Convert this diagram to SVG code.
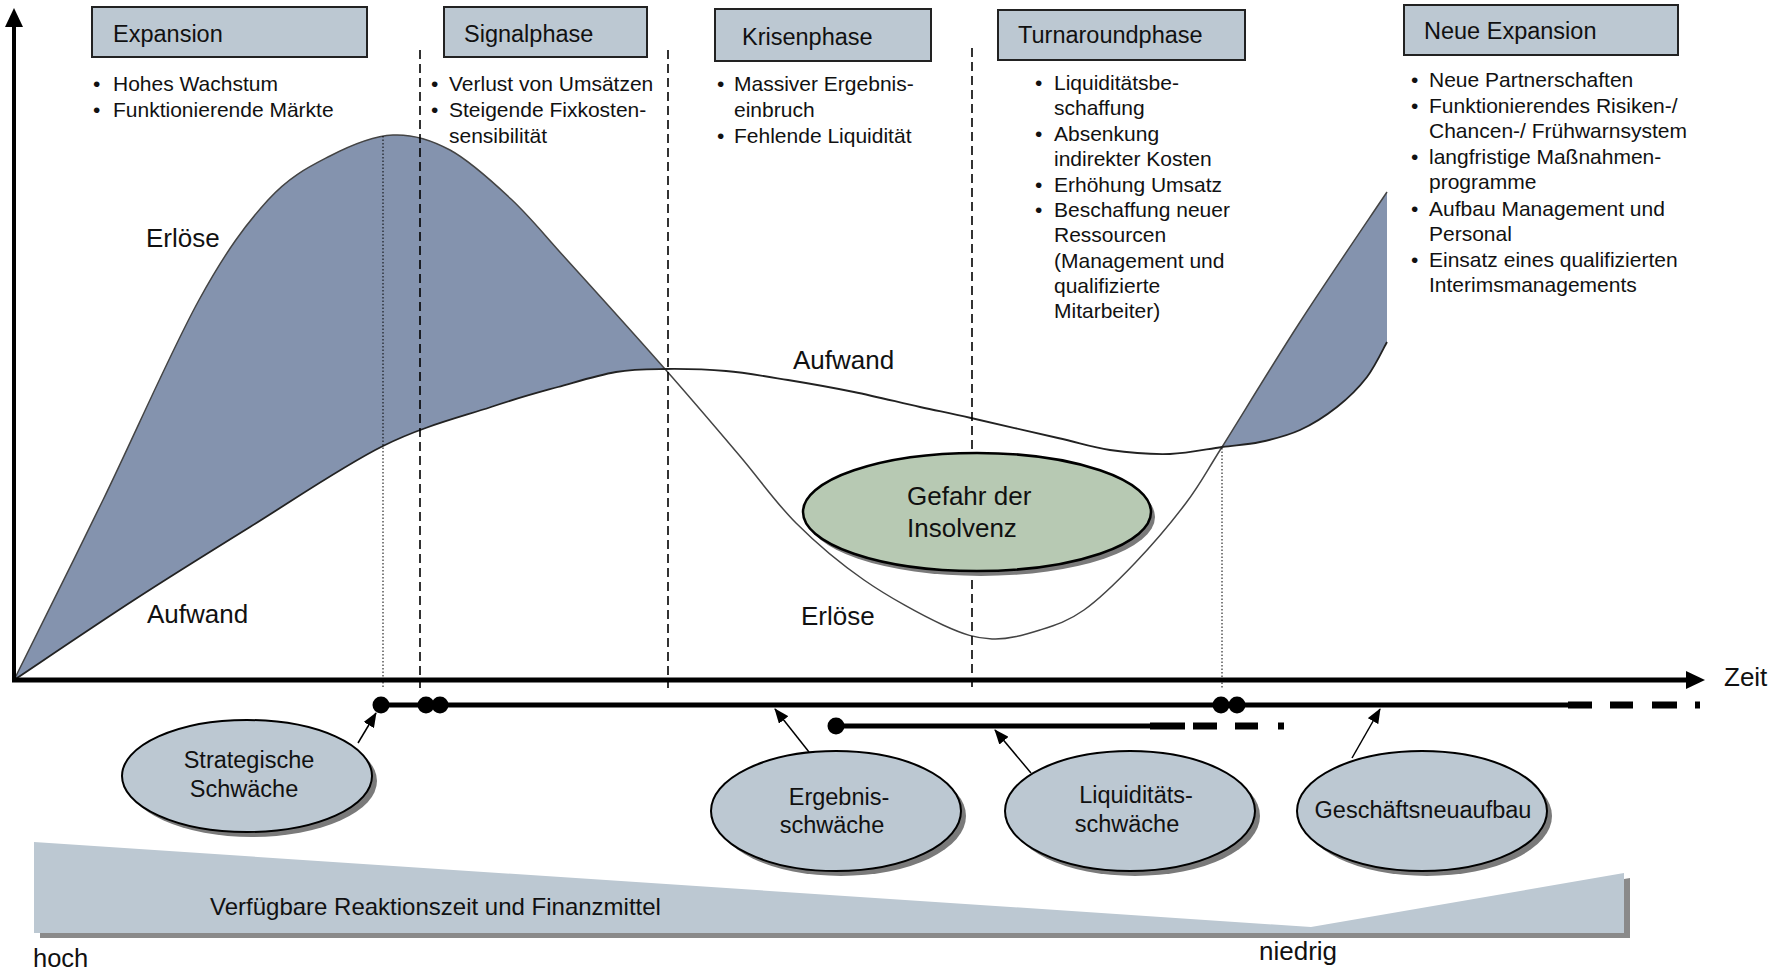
<svg xmlns="http://www.w3.org/2000/svg" width="1782" height="970" viewBox="0 0 1782 970">
<defs>
<style>
text{font-family:"Liberation Sans",Arial,Helvetica,sans-serif;fill:#111}
.ph{font-size:23.5px}
.bl{font-size:21px}
.lb{font-size:26px}
.el{font-size:23.5px;text-anchor:middle}
.box{fill:#BCC8D2;stroke:#222;stroke-width:2}
.ell{fill:#BCC8D2;stroke:#000;stroke-width:2}
.shd{fill:#7a7a7a}
.dash{stroke:#000;stroke-width:1.6;stroke-dasharray:9 5;fill:none}
.dot{stroke:#000;stroke-width:1;stroke-dasharray:1.5 2;fill:none}
.conn{stroke:#000;stroke-width:1.5;fill:none;marker-end:url(#ah)}
.tl{stroke:#000;stroke-width:5;fill:none}
.td{stroke:#000;stroke-width:7;fill:none}
</style>
<marker id="ah" markerUnits="userSpaceOnUse" markerWidth="15" markerHeight="12" refX="14" refY="6" orient="auto">
<path d="M0,0 L15,6 L0,12 Z" fill="#000"/>
</marker>
</defs>
<rect width="1782" height="970" fill="#fff"/>

<!-- filled areas -->
<path fill="#8493AE" d="M14,680 C28.8,650 72.2,563.3 103,500 C133.8,436.7 171.5,350 199,300 C226.5,250 246.2,224 268,200 C289.8,176 309.2,166.8 330,156 C350.8,145.2 373,136 393,135 C413,134 430.3,139.3 450,150 C469.7,160.7 491.3,180.5 511,199 C530.7,217.5 542.3,232.7 568,261 C593.7,289.3 636.5,336.7 665,369 C646.7,369.2 633.8,369 616,372 C598.2,375 578.8,381.2 558,387 C537.2,392.8 520.2,397.2 491,407 C461.8,416.8 423.2,426 383,446 C342.8,466 291.5,501.3 250,527 C208.5,552.7 173.3,574.5 134,600 C94.7,625.5 34,666.7 14,680 Z"/>
<path fill="#8493AE" d="M1222,447 C1241,416.8 1272.5,364.5 1300,322 C1327.5,279.5 1372.5,213.7 1387,192 L1387,342 C1383.7,347.8 1375.3,366.2 1367,377 C1358.7,387.8 1348.2,398.2 1337,407 C1325.8,415.8 1312.8,424.2 1300,430 C1287.2,435.8 1273,439.2 1260,442 C1247,444.8 1237,445 1222,447 Z"/>

<!-- curves -->
<path id="erloese" fill="none" stroke="#444" stroke-width="1.5" d="M14,680 C28.8,650 72.2,563.3 103,500 C133.8,436.7 171.5,350 199,300 C226.5,250 246.2,224 268,200 C289.8,176 309.2,166.8 330,156 C350.8,145.2 373,136 393,135 C413,134 430.3,139.3 450,150 C469.7,160.7 491.3,180.5 511,199 C530.7,217.5 542.3,232.7 568,261 C593.7,289.3 636.5,336.7 665,369 C693.5,401.3 717.2,429.3 739,455 C760.8,480.7 775.2,502.2 796,523 C816.8,543.8 839.5,563 864,580 C888.5,597 921.7,615.2 943,625 C964.3,634.8 975.8,638.2 992,639 C1008.2,639.8 1024.7,634.8 1040,630 C1055.3,625.2 1068.2,621.2 1084,610 C1099.8,598.8 1118,580.8 1135,563 C1152,545.2 1171.5,522.3 1186,503 C1200.5,483.7 1203,477.2 1222,447 C1241,416.8 1272.5,364.5 1300,322 C1327.5,279.5 1372.5,213.7 1387,192"/>
<path id="aufwand" fill="none" stroke="#222" stroke-width="1.8" d="M14,680 C34,666.7 94.7,625.5 134,600 C173.3,574.5 208.5,552.7 250,527 C291.5,501.3 342.8,466 383,446 C423.2,426 461.8,416.8 491,407 C520.2,397.2 537.2,392.8 558,387 C578.8,381.2 598.2,375 616,372 C633.8,369 646.7,369.2 665,369 C683.3,368.8 705.5,369.2 726,371 C746.5,372.8 766.7,376.5 788,380 C809.3,383.5 832,387.5 854,392 C876,396.5 900.5,402.7 920,407 C939.5,411.3 948,412.8 971,418 C994,423.2 1034.8,432.7 1058,438 C1081.2,443.3 1091.3,447.3 1110,450 C1128.7,452.7 1151.3,454.5 1170,454 C1188.7,453.5 1207,449 1222,447 C1237,445 1247,444.8 1260,442 C1273,439.2 1287.2,435.8 1300,430 C1312.8,424.2 1325.8,415.8 1337,407 C1348.2,398.2 1358.7,387.8 1367,377 C1375.3,366.2 1383.7,347.8 1387,342"/>

<!-- vertical guides -->
<line class="dot" x1="383" y1="136" x2="383" y2="688"/>
<line class="dot" x1="1222" y1="448" x2="1222" y2="688"/>
<line class="dash" x1="420" y1="50" x2="420" y2="688"/>
<line class="dash" x1="668" y1="50" x2="668" y2="688"/>
<line class="dash" x1="972" y1="48" x2="972" y2="688"/>

<!-- axes -->
<line x1="14" y1="682" x2="14" y2="24" stroke="#000" stroke-width="4"/>
<polygon points="5,27 14,8 23,27" fill="#000"/>
<line x1="12" y1="680" x2="1690" y2="680" stroke="#000" stroke-width="5"/>
<polygon points="1686,671 1705,680 1686,689" fill="#000"/>
<text class="lb" x="1724" y="686">Zeit</text>

<!-- curve labels -->
<text class="lb" x="146" y="247">Erlöse</text>
<text class="lb" x="147" y="623">Aufwand</text>
<text class="lb" x="793" y="369">Aufwand</text>
<text class="lb" x="801" y="625">Erlöse</text>

<!-- phase nodes -->
<g id="phase-expansion">
<rect class="box" x="92" y="7" width="275" height="50"/>
<text class="ph" x="113" y="42">Expansion</text>
<text class="bl" x="93" y="91">•</text><text class="bl" x="113" y="91">Hohes Wachstum</text>
<text class="bl" x="93" y="117">•</text><text class="bl" x="113" y="117">Funktionierende Märkte</text>
</g>
<g id="phase-signal">
<rect class="box" x="444" y="7" width="203" height="50"/>
<text class="ph" x="464" y="42">Signalphase</text>
<text class="bl" x="431" y="91">•</text><text class="bl" x="449" y="91">Verlust von Umsätzen</text>
<text class="bl" x="431" y="117">•</text><text class="bl" x="449" y="117">Steigende Fixkosten-</text>
<text class="bl" x="449" y="143">sensibilität</text>
</g>
<g id="phase-krise">
<rect class="box" x="715" y="9" width="216" height="52"/>
<text class="ph" x="742" y="45">Krisenphase</text>
<text class="bl" x="717" y="91">•</text><text class="bl" x="734" y="91">Massiver Ergebnis-</text>
<text class="bl" x="734" y="117">einbruch</text>
<text class="bl" x="717" y="143">•</text><text class="bl" x="734" y="143">Fehlende Liquidität</text>
</g>
<g id="phase-turnaround">
<rect class="box" x="998" y="10" width="247" height="50"/>
<text class="ph" x="1018" y="43">Turnaroundphase</text>
<text class="bl" x="1035" y="90">•</text><text class="bl" x="1054" y="90">Liquiditätsbe-</text>
<text class="bl" x="1054" y="115">schaffung</text>
<text class="bl" x="1035" y="141">•</text><text class="bl" x="1054" y="141">Absenkung</text>
<text class="bl" x="1054" y="166">indirekter Kosten</text>
<text class="bl" x="1035" y="192">•</text><text class="bl" x="1054" y="192">Erhöhung Umsatz</text>
<text class="bl" x="1035" y="217">•</text><text class="bl" x="1054" y="217">Beschaffung neuer</text>
<text class="bl" x="1054" y="242">Ressourcen</text>
<text class="bl" x="1054" y="268">(Management und</text>
<text class="bl" x="1054" y="293">qualifizierte</text>
<text class="bl" x="1054" y="318">Mitarbeiter)</text>
</g>
<g id="phase-neue-expansion">
<rect class="box" x="1404" y="5" width="274" height="50"/>
<text class="ph" x="1424" y="39">Neue Expansion</text>
<text class="bl" x="1411" y="87">•</text><text class="bl" x="1429" y="87">Neue Partnerschaften</text>
<text class="bl" x="1411" y="113">•</text><text class="bl" x="1429" y="113">Funktionierendes Risiken-/</text>
<text class="bl" x="1429" y="138">Chancen-/ Frühwarnsystem</text>
<text class="bl" x="1411" y="164">•</text><text class="bl" x="1429" y="164">langfristige Maßnahmen-</text>
<text class="bl" x="1429" y="189">programme</text>
<text class="bl" x="1411" y="216">•</text><text class="bl" x="1429" y="216">Aufbau Management und</text>
<text class="bl" x="1429" y="241">Personal</text>
<text class="bl" x="1411" y="267">•</text><text class="bl" x="1429" y="267">Einsatz eines qualifizierten</text>
<text class="bl" x="1429" y="292">Interimsmanagements</text>
</g>

<!-- insolvency -->
<g id="gefahr-insolvenz">
<ellipse class="shd" cx="981" cy="517" rx="174" ry="59"/>
<ellipse cx="977" cy="512" rx="174" ry="59" fill="#B7C9B3" stroke="#000" stroke-width="2.5"/>
<text class="lb" x="907" y="505">Gefahr der</text>
<text class="lb" x="907" y="537">Insolvenz</text>
</g>

<!-- timelines -->
<g id="timeline-main">
<line class="tl" x1="381" y1="705" x2="1568" y2="705"/>
<path class="td" d="M1568,705 H1592 M1610,705 H1633 M1652,705 H1677 M1695,705 H1700"/>
<circle cx="381" cy="705" r="8.5"/>
<circle cx="426" cy="705" r="8.5"/>
<circle cx="440" cy="705" r="8.5"/>
<circle cx="1221" cy="705" r="8.5"/>
<circle cx="1237" cy="705" r="8.5"/>
</g>
<g id="timeline-liquiditaet">
<line class="tl" x1="836" y1="726" x2="1152" y2="726"/>
<path class="td" d="M1150,726 H1185 M1193,726 H1217 M1235,726 H1258 M1278,726 H1284"/>
<circle cx="836" cy="726" r="8.5"/>
</g>

<!-- wedge -->
<g id="reaktionszeit">
<polygon points="40,847 1317,932 1630,878 1630,938 40,938" fill="#8a8a8a"/>
<polygon points="34,842 1311,927 1624,873 1624,933 34,933" fill="#BCC8D2"/>
<text x="210" y="915" style="font-size:24px">Verfügbare Reaktionszeit und Finanzmittel</text>
</g>
<text x="33" y="967" style="font-size:25.5px">hoch</text>
<text x="1259" y="960" style="font-size:26px">niedrig</text>

<!-- ellipse nodes -->
<g id="strategische-schwaeche">
<ellipse class="shd" cx="252" cy="781" rx="125" ry="56"/>
<ellipse class="ell" cx="247" cy="776" rx="125" ry="56"/>
<text class="el" x="249" y="768">Strategische</text>
<text class="el" x="244" y="797">Schwäche</text>
</g>
<g id="ergebnisschwaeche">
<ellipse class="shd" cx="841" cy="816" rx="125" ry="60"/>
<ellipse class="ell" cx="836" cy="811" rx="125" ry="60"/>
<text class="el" x="839" y="805">Ergebnis-</text>
<text class="el" x="832" y="833">schwäche</text>
</g>
<g id="liquiditaetsschwaeche">
<ellipse class="shd" cx="1135" cy="816" rx="125" ry="60"/>
<ellipse class="ell" cx="1130" cy="811" rx="125" ry="60"/>
<text class="el" x="1136" y="803">Liquiditäts-</text>
<text class="el" x="1127" y="832">schwäche</text>
</g>
<g id="geschaeftsneuaufbau">
<ellipse class="shd" cx="1427" cy="816" rx="125" ry="60"/>
<ellipse class="ell" cx="1422" cy="811" rx="125" ry="60"/>
<text class="el" x="1423" y="818">Geschäftsneuaufbau</text>
</g>

<!-- connectors -->
<g id="connectors">
<line class="conn" x1="358" y1="743" x2="376" y2="713"/>
<line class="conn" x1="809" y1="752" x2="775" y2="709"/>
<line class="conn" x1="1031" y1="773" x2="995" y2="730"/>
<line class="conn" x1="1352" y1="758" x2="1380" y2="709"/>
</g>
</svg>
